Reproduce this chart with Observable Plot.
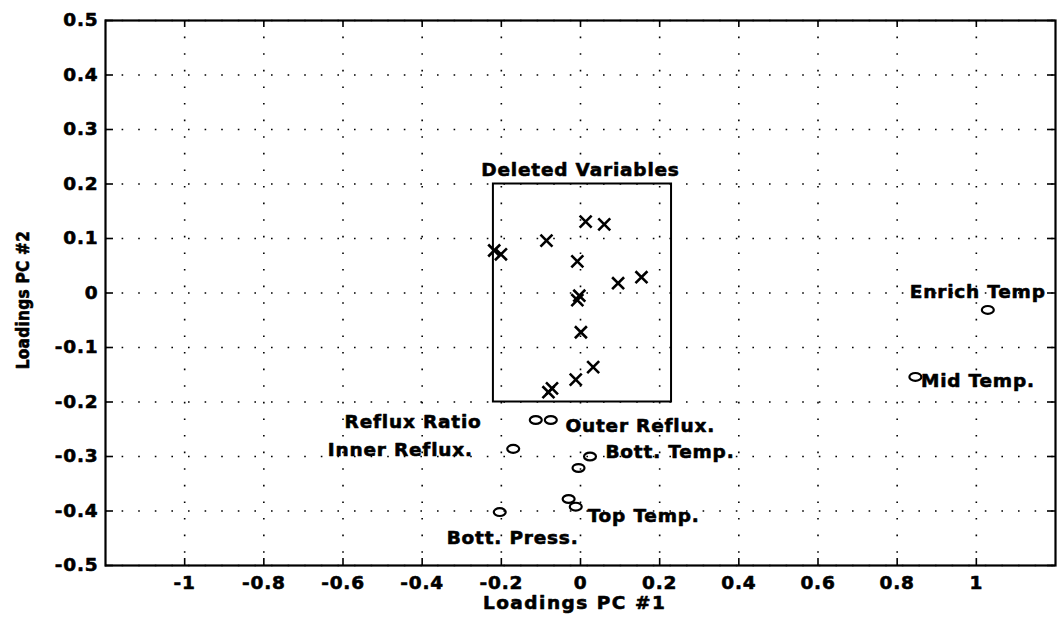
<!DOCTYPE html>
<html>
<head>
<meta charset="utf-8">
<script src="https://cdn.jsdelivr.net/npm/d3@7"></script>
<script src="https://cdn.jsdelivr.net/npm/@observablehq/plot@0.6"></script>
<style>
  html, body { margin: 0; padding: 0; background: #fff; }
  #chart svg { display: block; }
  #chart svg text { letter-spacing: 0.8px; }
  #chart svg .xlab text { letter-spacing: 1.5px; }
  #chart svg .ylab text { letter-spacing: 0.3px; font-stretch: condensed; }
</style>
</head>
<body>
<div id="chart"></div>
<script>
// ---- data ----
const xTicks = [-1, -0.8, -0.6, -0.4, -0.2, 0, 0.2, 0.4, 0.6, 0.8, 1];
const yTicks = [-0.5, -0.4, -0.3, -0.2, -0.1, 0, 0.1, 0.2, 0.3, 0.4, 0.5];

// deleted variables (x markers)
const deletedX = [0.013, 0.060, -0.086, -0.218, -0.201, -0.008, 0.154, 0.095, -0.003, -0.008, 0.001, 0.032, -0.012, -0.072, -0.081];
const deletedY = [0.131, 0.126, 0.096, 0.078, 0.071, 0.058, 0.029, 0.018, -0.005, -0.013, -0.072, -0.136, -0.159, -0.175, -0.182];

// retained variables (o markers)
const keptX = [-0.113, -0.075, -0.170, 0.024, -0.005, -0.030, -0.012, -0.204, 1.029, 0.846];
const keptY = [-0.233, -0.233, -0.286, -0.300, -0.321, -0.378, -0.392, -0.402, -0.031, -0.154];

// variable labels
const labelText = ["Enrich Temp", "Mid Temp.", "Reflux Ratio", "Outer Reflux.", "Inner Reflux.", "Bott. Temp.", "Top Temp.", "Bott. Press."];
const labelX = [0.832, 0.860, -0.250, -0.038, -0.272, 0.063, 0.018, -0.005];
const labelY = [0.001, -0.162, -0.237, -0.245, -0.289, -0.291, -0.410, -0.449];
const labelAnchor = ["start", "start", "end", "start", "end", "start", "start", "end"];

// "Deleted Variables" box
const boxX = [-0.22, 0.23];
const boxY = [-0.2, 0.2];
const boxTitle = "Deleted Variables";
const boxTitleX = 0;
const boxTitleY = 0.225;

const xLabel = "Loadings PC #1";
const yLabel = "Loadings PC #2";
const xDomain = [-1.2, 1.2];
const yDomain = [-0.5, 0.5];

// ---- layout ----
const W = 1059, H = 618;
const mL = 105, mR = 4, mT = 20, mB = 53;
const frameW = W - mL - mR, frameH = H - mT - mB;
const font = "DejaVu Sans";
const fmt = d => String(+d.toFixed(1));

const ellipse = {
  draw(ctx, size) {
    const r = Math.sqrt(size / Math.PI);
    const rx = r * 1.3, ry = r * 0.85, k = 0.5523;
    ctx.moveTo(rx, 0);
    ctx.bezierCurveTo(rx, ry * k, rx * k, ry, 0, ry);
    ctx.bezierCurveTo(-rx * k, ry, -rx, ry * k, -rx, 0);
    ctx.bezierCurveTo(-rx, -ry * k, -rx * k, -ry, 0, -ry);
    ctx.bezierCurveTo(rx * k, -ry, rx, -ry * k, rx, 0);
    ctx.closePath();
  }
};

const deleted = deletedX.map((x, i) => ({x, y: deletedY[i]}));
const kept = keptX.map((x, i) => ({x, y: keptY[i]}));
const labels = labelText.map((t, i) => ({t, x: labelX[i], y: labelY[i], a: labelAnchor[i]}));
const box = [{x1: boxX[0], x2: boxX[1], y1: boxY[0], y2: boxY[1]}];

const textStyle = {fontFamily: font, fontWeight: "bold", fontSize: 18.5, fill: "black", stroke: "black", strokeWidth: 0.6, strokeLinejoin: "round"};

const chart = Plot.plot({
  width: W, height: H,
  marginLeft: mL, marginRight: mR, marginTop: mT, marginBottom: mB,
  style: {fontFamily: font, background: "white", overflow: "visible"},
  x: {domain: xDomain, axis: null},
  y: {domain: yDomain, axis: null},
  marks: [
    Plot.gridX(xTicks, {stroke: "black", strokeOpacity: 1, strokeWidth: 1.6, strokeDasharray: "1.6,15", strokeLinecap: "butt"}),
    Plot.gridY(yTicks, {stroke: "black", strokeOpacity: 1, strokeWidth: 1.6, strokeDasharray: "1.6,15", strokeLinecap: "butt"}),
    // inward tick marks on all four sides
    Plot.tickX(xTicks, {x: d => d, insetTop: frameH - 7, stroke: "black", strokeWidth: 1.6}),
    Plot.tickX(xTicks, {x: d => d, insetBottom: frameH - 7, stroke: "black", strokeWidth: 1.6}),
    Plot.tickY(yTicks, {y: d => d, insetRight: frameW - 8, stroke: "black", strokeWidth: 1.6}),
    Plot.tickY(yTicks, {y: d => d, insetLeft: frameW - 8, stroke: "black", strokeWidth: 1.6}),
    Plot.frame({stroke: "black", strokeWidth: 2.2}),
    // tick labels
    Plot.text(xTicks, {x: d => d, y: yDomain[0], text: fmt, dy: 18, ...textStyle, textAnchor: "middle", lineAnchor: "middle"}),
    Plot.text(yTicks, {y: d => d, x: xDomain[0], text: fmt, dx: -7, ...textStyle, textAnchor: "end", lineAnchor: "middle"}),
    // axis labels
    Plot.text([xLabel], {x: -0.015, y: yDomain[0], text: d => d, dy: 38, ...textStyle, textAnchor: "middle", lineAnchor: "middle", className: "xlab"}),
    Plot.text([yLabel], {x: xDomain[0], y: -0.013, text: d => d, dx: -82, rotate: -90, ...textStyle, fontSize: 17, fontFamily: "DejaVu Sans Condensed, Liberation Sans Narrow, DejaVu Sans", textAnchor: "middle", lineAnchor: "middle", className: "ylab"}),
    // deleted box
    Plot.rect(box, {x1: "x1", x2: "x2", y1: "y1", y2: "y2", fill: "none", stroke: "black", strokeWidth: 2}),
    Plot.text([boxTitle], {x: boxTitleX, y: boxTitleY, text: d => d, ...textStyle, textAnchor: "middle", lineAnchor: "middle"}),
    // markers
    Plot.dot(deleted, {x: "x", y: "y", symbol: "times", r: 5.5, stroke: "black", strokeWidth: 2.6}),
    Plot.dot(kept, {x: "x", y: "y", symbol: ellipse, r: 4.6, stroke: "black", strokeWidth: 2.2, fill: "none"}),
    // variable labels
    Plot.text(labels, {x: "x", y: "y", text: "t", textAnchor: "start", filter: d => d.a === "start", ...textStyle, lineAnchor: "middle"}),
    Plot.text(labels, {x: "x", y: "y", text: "t", textAnchor: "end", filter: d => d.a === "end", ...textStyle, lineAnchor: "middle"})
  ]
});
document.getElementById("chart").appendChild(chart);
</script>
</body>
</html>
